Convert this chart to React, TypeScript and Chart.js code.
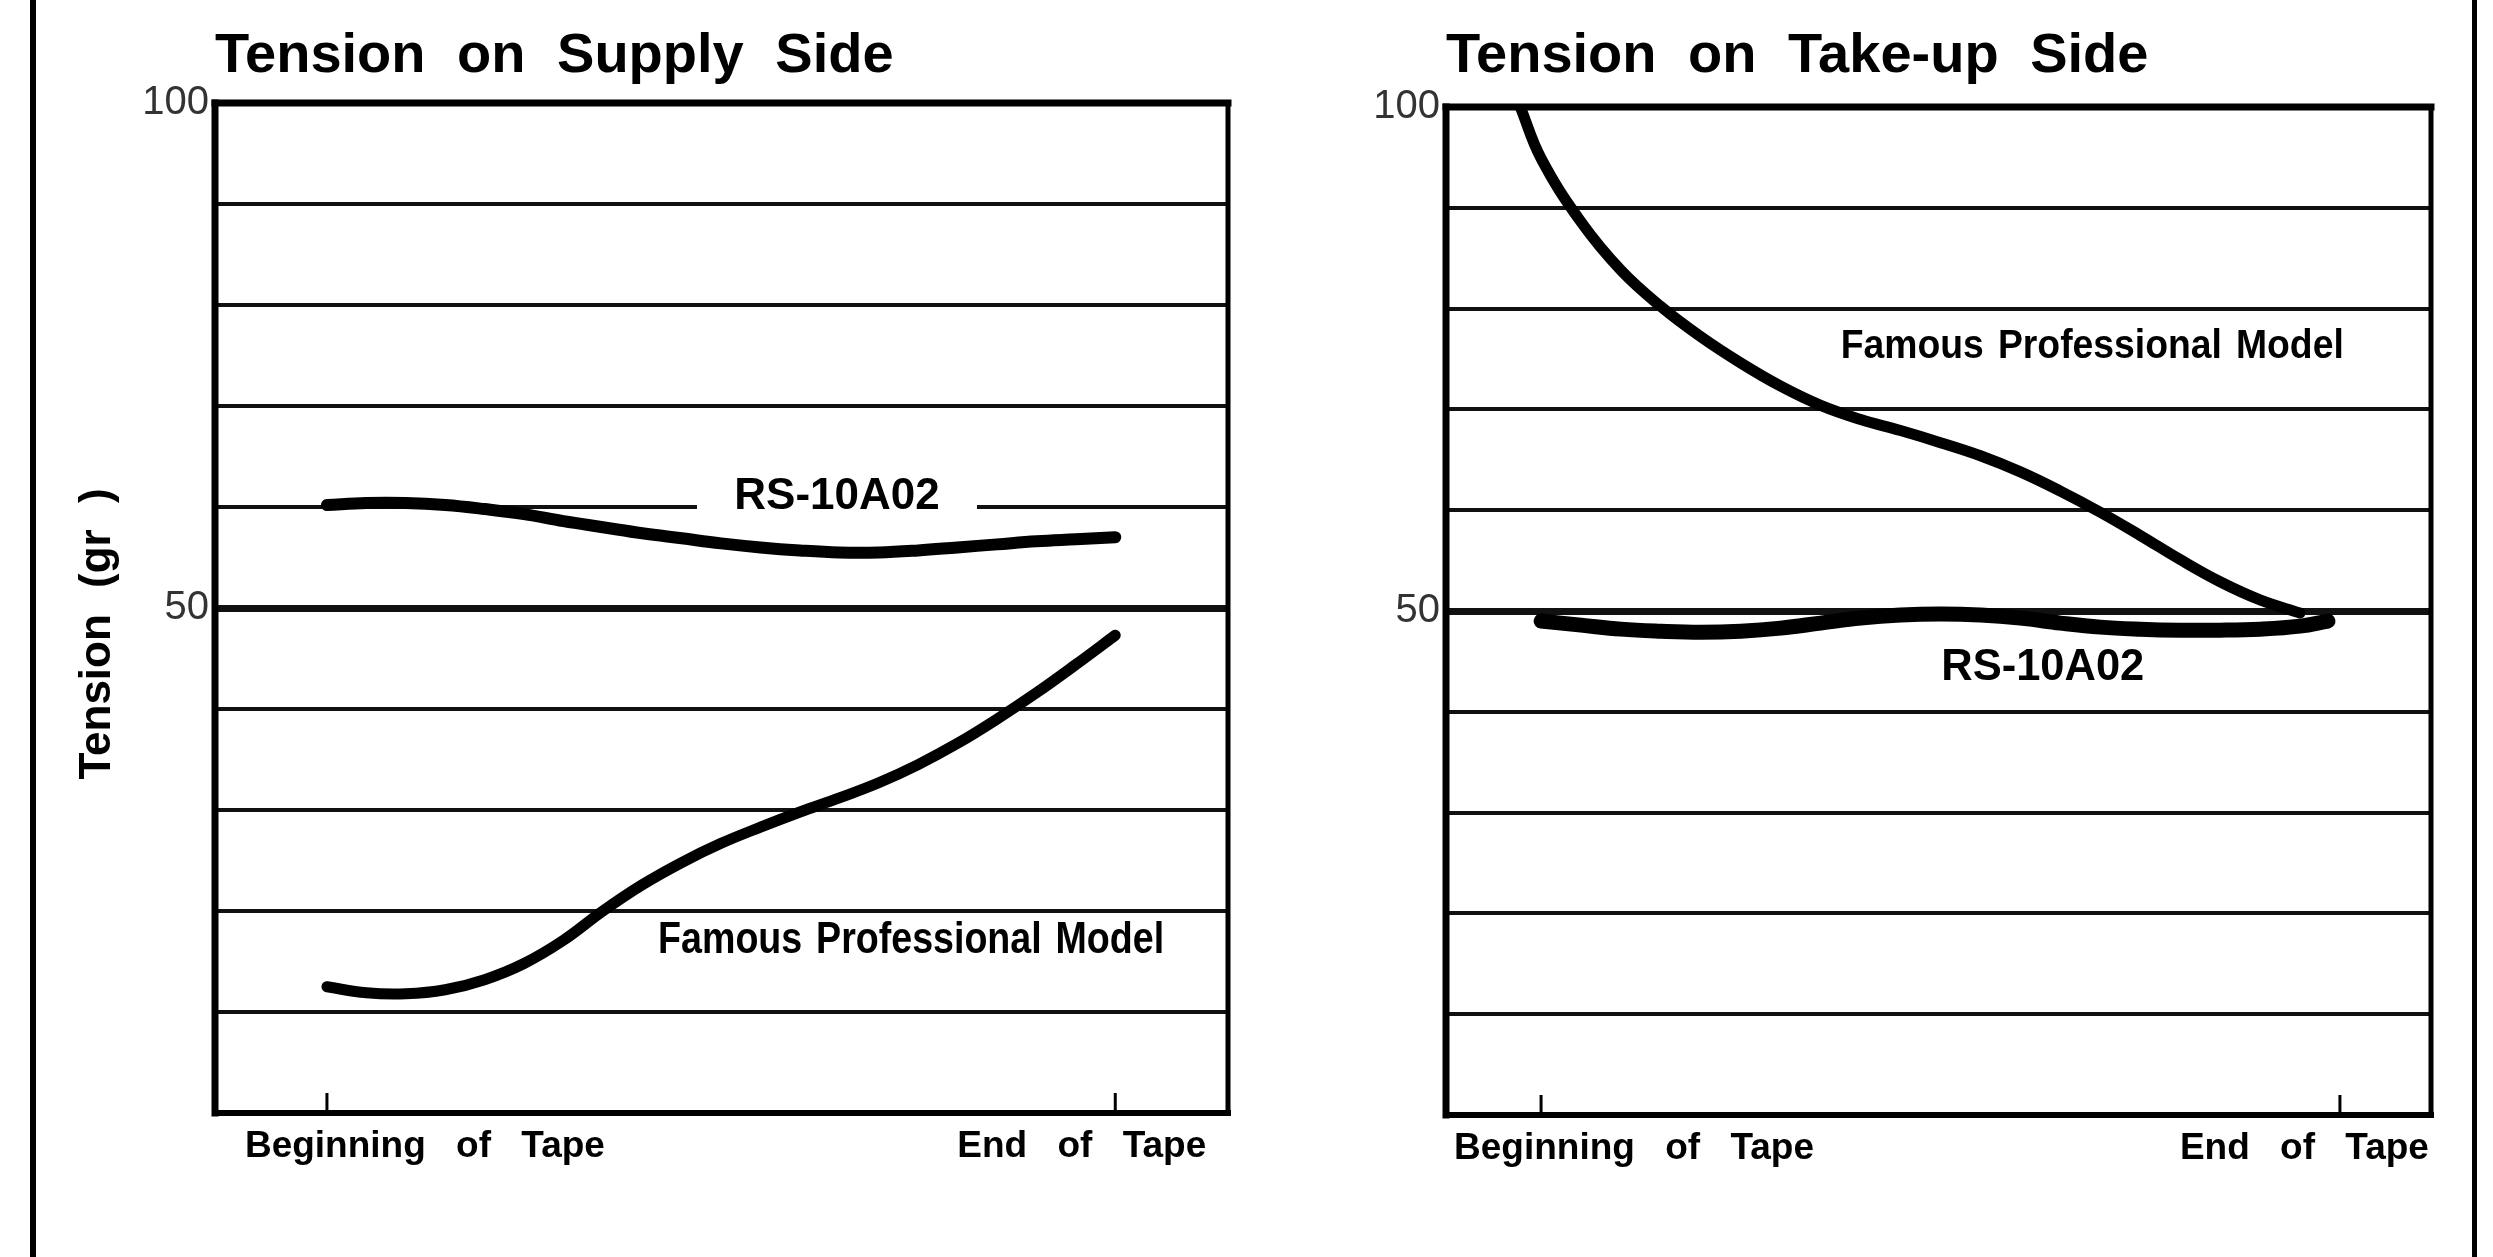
import React, { useEffect, useRef } from 'react';
import { Chart, registerables } from 'chart.js';

Chart.register(...registerables);

// ---------- data ----------
const chartTitles = ['Tension on Supply Side', 'Tension on Take-up Side'];
const seriesNames = ['RS-10A02', 'Famous Professional Model'];
const yAxisTitle = 'Tension (gr )';
const yTickLabels = [100, 50];
const xTickValues = [0, 100];
const xTickLabels = ['Beginning of Tape', 'End of Tape'];

// Supply side (x: 0 = beginning of tape, 100 = end of tape)
const supplyX = [0, 5, 10, 15, 20, 25, 30, 35, 40, 45, 50, 55, 60, 65, 70, 75, 80, 85, 90, 95, 100];
const supplyRS = [60.2, 60.4, 60.4, 60.2, 59.8, 59.3, 58.6, 58.0, 57.4, 56.9, 56.4, 56.0, 55.7, 55.5, 55.5, 55.7, 56.0, 56.3, 56.6, 56.8, 57.0];
const supplyFamous = [12.5, 11.9, 11.8, 12.2, 13.2, 14.8, 17.1, 20.0, 22.6, 24.8, 26.7, 28.3, 29.8, 31.2, 32.7, 34.5, 36.6, 39.0, 41.6, 44.4, 47.3];

// Take-up side
const takeupRSX = [0, 5, 10, 15, 20, 25, 30, 35, 40, 45, 50, 55, 60, 65, 70, 75, 80, 85, 90, 95, 98.5];
const takeupRS = [49.0, 48.6, 48.2, 48.0, 47.9, 48.0, 48.3, 48.8, 49.3, 49.6, 49.7, 49.6, 49.3, 48.8, 48.4, 48.2, 48.1, 48.1, 48.2, 48.5, 49.0];
const takeupFamousX = [-2.6, 0, 5, 10, 15, 20, 25, 30, 35, 40, 45, 50, 55, 60, 65, 70, 75, 80, 85, 90, 95];
const takeupFamous = [100, 94.9, 88.6, 83.8, 80.2, 77.2, 74.6, 72.3, 70.4, 69.0, 67.9, 66.7, 65.4, 63.8, 61.9, 59.8, 57.5, 55.1, 52.9, 51.1, 49.8];

// ---------- styling ----------
const FONT = '"Liberation Sans", Arial, Helvetica, sans-serif';

const decorPlugin = {
  id: 'decor',
  beforeDraw(chart: any) {
    (chart.ctx as any).wordSpacing = '16px';
  },
  beforeDatasetsDraw(chart: any) {
    const { ctx, chartArea: a, scales } = chart;
    ctx.save();
    ctx.strokeStyle = '#000';
    ctx.lineCap = 'square';
    const seg = (x1: number, y1: number, x2: number, y2: number, w: number) => {
      ctx.lineWidth = w;
      ctx.beginPath();
      ctx.moveTo(x1, y1);
      ctx.lineTo(x2, y2);
      ctx.stroke();
    };
    seg(a.left, a.top, a.right, a.top, 7);
    seg(a.left, a.bottom, a.right, a.bottom, 6);
    seg(a.left, a.top, a.left, a.bottom, 7);
    seg(a.right, a.top, a.right, a.bottom, 5);
    ctx.lineCap = 'butt';
    for (const v of xTickValues) {
      const px = scales.x.getPixelForValue(v);
      seg(px, a.bottom, px, a.bottom - 20, 3);
    }
    ctx.restore();
  },
  afterDatasetsDraw(chart: any, _args: any, opts: any) {
    const { ctx, chartArea: a, scales } = chart;
    ctx.save();
    ctx.fillStyle = '#000';
    // x tick labels
    ctx.font = `bold 37px ${FONT}`;
    (ctx as any).wordSpacing = '20px';
    ctx.textAlign = 'left';
    ctx.textBaseline = 'alphabetic';
    xTickValues.forEach((v, i) => {
      const px = scales.x.getPixelForValue(v) + opts.xLabelOffsets[i];
      ctx.fillText(xTickLabels[i], px, a.bottom + 44);
    });
    // series labels
    (ctx as any).wordSpacing = '4px';
    ctx.textAlign = 'center';
    ctx.textBaseline = 'middle';
    for (const l of opts.labels) {
      const px = scales.x.getPixelForValue(l.x);
      const py = scales.y.getPixelForValue(l.y);
      if (l.bg) {
        ctx.fillStyle = '#fff';
        ctx.fillRect(px - l.bg / 2, py - 22, l.bg, 44);
        ctx.fillStyle = '#000';
      }
      ctx.font = `bold ${l.size}px ${FONT}`;
      ctx.fillText(l.text, px, py, l.width);
    }
    // y-axis title
    if (opts.yTitle) {
      ctx.translate(opts.yTitle.x, (a.top + a.bottom) / 2 + opts.yTitle.dy);
      ctx.rotate(-Math.PI / 2);
      ctx.font = `bold 44px ${FONT}`;
      (ctx as any).wordSpacing = '14px';
      ctx.fillText(yAxisTitle, 0, 0);
    }
    ctx.restore();
  },
};

function pts(xs: number[], ys: number[]) {
  return xs.map((x, i) => ({ x, y: ys[i] }));
}

function lineDs(label: string, data: any[], width: number) {
  return {
    label,
    data,
    borderColor: '#000',
    backgroundColor: '#000',
    borderWidth: width,
    pointRadius: 0,
    tension: 0.4,
    borderCapStyle: 'round' as const,
    borderJoinStyle: 'round' as const,
    fill: false,
  };
}

function makeConfig(p: any) {
  return {
    type: 'line',
    data: { datasets: p.datasets },
    plugins: [decorPlugin],
    options: {
      animation: false,
      responsive: false,
      devicePixelRatio: 1,
      layout: { padding: p.padding },
      plugins: {
        legend: { display: false },
        tooltip: { enabled: false },
        title: {
          display: true,
          text: p.title,
          align: 'start',
          fullSize: false,
          color: '#000',
          font: { family: FONT, size: 56, weight: 'bold', lineHeight: 1.2 },
          padding: { top: 23, bottom: p.titleBottom },
        },
        decor: p.decor,
      },
      scales: {
        x: { type: 'linear', display: false, min: p.xMin, max: p.xMax },
        y: {
          type: 'linear',
          min: 0,
          max: 100,
          afterFit: (s: any) => {
            s.width = p.yWidth;
          },
          border: { display: false },
          grid: {
            drawTicks: false,
            color: '#111',
            lineWidth: (c: any) => (c.tick && c.tick.value === 50 ? 7 : 4),
          },
          ticks: {
            stepSize: 10,
            autoSkip: false,
            padding: 6,
            color: '#333',
            font: { family: FONT, size: 40, weight: 'normal' },
            callback: (v: any) => (yTickLabels.includes(Number(v)) ? String(v) : ''),
          },
        },
      },
    },
  };
}

export default function App() {
  const leftRef = useRef<HTMLCanvasElement>(null);
  const rightRef = useRef<HTMLCanvasElement>(null);

  useEffect(() => {
    const left = new Chart(
      leftRef.current as HTMLCanvasElement,
      makeConfig({
        title: chartTitles[0],
        titleBottom: 12.8,
        padding: { left: 70, right: 32, top: 0, bottom: 144 },
        yWidth: 145,
        xMin: -14.2,
        xMax: 114.3,
        datasets: [
          lineDs(seriesNames[0], pts(supplyX, supplyRS), 12),
          lineDs(seriesNames[1], pts(supplyX, supplyFamous), 11),
        ],
        decor: {
          xLabelOffsets: [-82, -158],
          yTitle: { x: 98, dy: 26 },
          labels: [
            { text: seriesNames[0], x: 64.7, y: 61.0, size: 44, width: 206, bg: 280 },
            { text: seriesNames[1], x: 74.1, y: 17.0, size: 44, width: 506 },
          ],
        },
      }) as any
    );
    const right = new Chart(
      rightRef.current as HTMLCanvasElement,
      makeConfig({
        title: chartTitles[1],
        titleBottom: 16.8,
        padding: { left: 100, right: 62, top: 0, bottom: 142 },
        yWidth: 86,
        xMin: -11.9,
        xMax: 111.4,
        datasets: [
          lineDs(seriesNames[0], pts(takeupRSX, takeupRS), 15),
          lineDs(seriesNames[1], pts(takeupFamousX, takeupFamous), 11),
        ],
        decor: {
          xLabelOffsets: [-87, -160],
          yTitle: null,
          labels: [
            { text: seriesNames[1], x: 69.0, y: 76.2, size: 40, width: 503 },
            { text: seriesNames[0], x: 62.8, y: 44.4, size: 44, width: 203 },
          ],
        },
      }) as any
    );
    return () => {
      left.destroy();
      right.destroy();
    };
  }, []);

  return (
    <div style={{ position: 'absolute', left: 0, top: 0, width: 2493, height: 1257, background: '#fff', overflow: 'hidden' }}>
      <div style={{ position: 'absolute', left: 30, top: 0, width: 6, height: 1257, background: '#000' }} />
      <div style={{ position: 'absolute', left: 2472, top: 0, width: 5, height: 1257, background: '#000' }} />
      <canvas ref={leftRef} width={1260} height={1257} style={{ position: 'absolute', left: 0, top: 0 }} />
      <canvas ref={rightRef} width={1233} height={1257} style={{ position: 'absolute', left: 1260, top: 0 }} />
    </div>
  );
}
